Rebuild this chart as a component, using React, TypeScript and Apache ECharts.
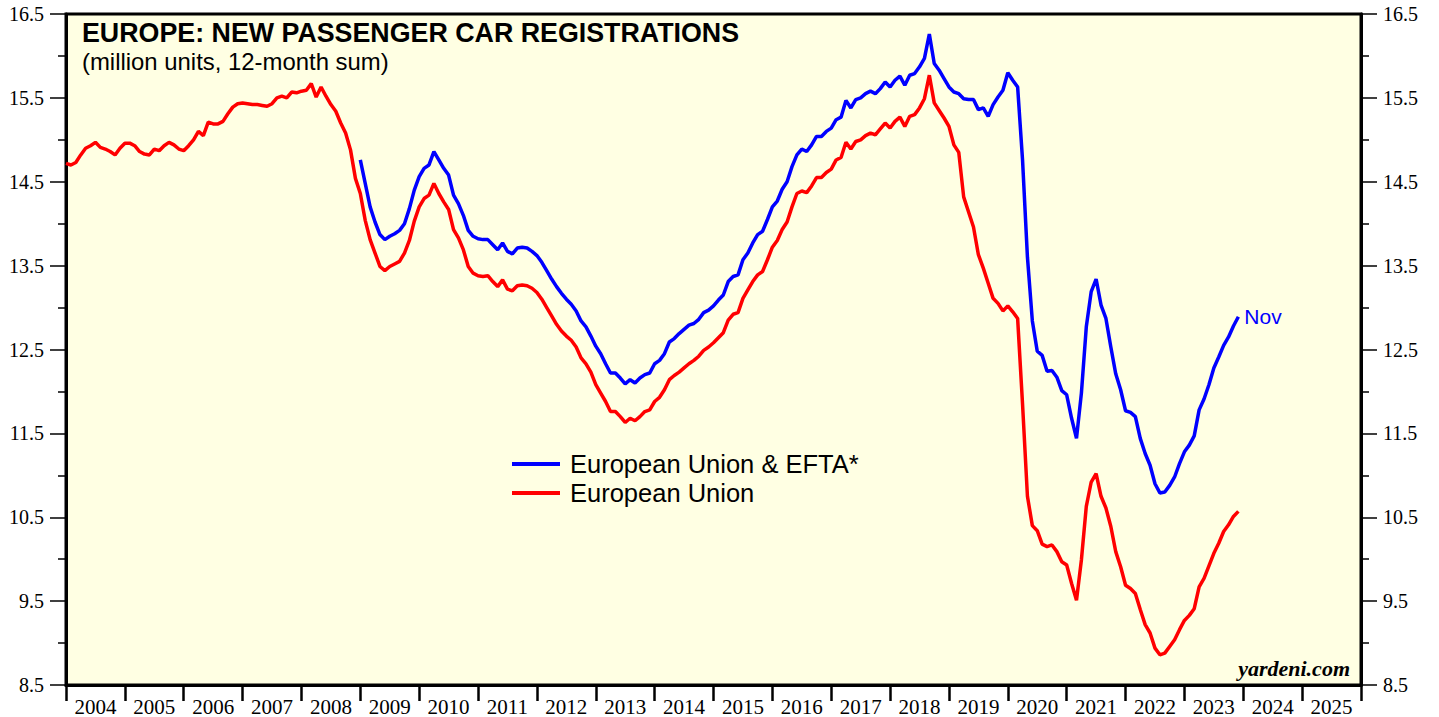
import React, { useEffect, useRef } from "react";
import * as echarts from "echarts";

const years = ["2004","2005","2006","2007","2008","2009","2010","2011","2012","2013","2014","2015","2016","2017","2018","2019","2020","2021","2022","2023","2024","2025"];

// European Union, monthly from Jan 2004 to Nov 2023 (million units, 12-month sum)
const euValues = [
  14.72,14.70,14.73,14.82,14.90,14.93,14.97,14.91,14.89,14.86,14.82,14.90,
  14.96,14.96,14.93,14.86,14.83,14.82,14.89,14.87,14.93,14.97,14.94,14.89,
  14.87,14.93,15.00,15.10,15.05,15.21,15.19,15.19,15.22,15.31,15.39,15.43,
  15.44,15.43,15.42,15.42,15.41,15.40,15.43,15.50,15.52,15.50,15.57,15.56,
  15.58,15.59,15.67,15.51,15.63,15.52,15.42,15.34,15.20,15.08,14.88,14.54,
  14.36,14.04,13.81,13.65,13.49,13.44,13.49,13.52,13.55,13.65,13.80,14.03,
  14.20,14.30,14.34,14.48,14.36,14.26,14.17,13.93,13.83,13.69,13.49,13.41,
  13.38,13.37,13.38,13.31,13.25,13.33,13.22,13.20,13.26,13.27,13.26,13.23,
  13.18,13.10,13.00,12.90,12.80,12.72,12.66,12.61,12.53,12.40,12.33,12.23,
  12.08,11.98,11.88,11.76,11.76,11.70,11.63,11.68,11.65,11.70,11.76,11.78,
  11.88,11.93,12.02,12.14,12.19,12.23,12.28,12.33,12.37,12.42,12.49,12.53,
  12.58,12.64,12.70,12.85,12.92,12.94,13.11,13.21,13.31,13.39,13.43,13.57,
  13.72,13.80,13.93,14.02,14.20,14.36,14.39,14.37,14.45,14.55,14.55,14.61,
  14.65,14.76,14.79,14.97,14.89,14.98,15.00,15.05,15.08,15.06,15.13,15.20,
  15.14,15.22,15.27,15.16,15.28,15.30,15.38,15.49,15.77,15.44,15.35,15.26,
  15.16,14.94,14.85,14.32,14.14,13.96,13.63,13.47,13.29,13.11,13.05,12.96,
  13.02,12.95,12.87,11.85,10.75,10.40,10.34,10.18,10.15,10.17,10.09,9.97,
  9.93,9.71,9.51,9.99,10.63,10.92,11.02,10.75,10.61,10.39,10.09,9.91,
  9.69,9.65,9.59,9.40,9.22,9.12,8.94,8.86,8.88,8.96,9.04,9.16,
  9.27,9.33,9.41,9.67,9.77,9.92,10.07,10.19,10.33,10.41,10.51,10.57
];

// European Union & EFTA*, monthly from Jan 2009 to Nov 2023
const euEftaStartIndex = 60;
const euEftaValues = [
  14.76,14.48,14.20,14.02,13.87,13.81,13.85,13.88,13.92,14.00,14.18,14.40,
  14.56,14.66,14.70,14.86,14.76,14.66,14.58,14.34,14.24,14.10,13.92,13.85,
  13.82,13.81,13.81,13.75,13.69,13.77,13.67,13.64,13.71,13.72,13.71,13.67,
  13.62,13.54,13.44,13.34,13.25,13.17,13.10,13.04,12.96,12.84,12.77,12.66,
  12.54,12.45,12.33,12.22,12.22,12.16,12.09,12.14,12.10,12.16,12.20,12.22,
  12.33,12.37,12.45,12.59,12.63,12.69,12.74,12.79,12.81,12.86,12.94,12.97,
  13.02,13.09,13.15,13.31,13.37,13.39,13.57,13.65,13.77,13.87,13.91,14.05,
  14.20,14.27,14.41,14.50,14.68,14.82,14.89,14.86,14.94,15.04,15.04,15.10,
  15.14,15.24,15.27,15.47,15.38,15.48,15.50,15.55,15.58,15.55,15.61,15.69,
  15.63,15.71,15.76,15.65,15.77,15.79,15.87,15.97,16.26,15.91,15.83,15.73,
  15.63,15.57,15.55,15.49,15.48,15.48,15.36,15.38,15.28,15.42,15.51,15.59,
  15.80,15.71,15.63,14.76,13.60,12.84,12.48,12.43,12.24,12.25,12.17,12.01,
  11.96,11.68,11.44,11.98,12.77,13.19,13.34,13.03,12.87,12.53,12.21,12.02,
  11.77,11.75,11.70,11.44,11.26,11.12,10.90,10.79,10.80,10.88,10.98,11.14,
  11.28,11.36,11.47,11.78,11.91,12.08,12.28,12.41,12.55,12.65,12.78,12.89
];

const yMin = 8.5;
const yMax = 16.5;
const yStep = 1;

const titleText = "EUROPE: NEW PASSENGER CAR REGISTRATIONS";
const subtitleText = "(million units, 12-month sum)";
const lastLabel = "Nov";
const seriesNames = ["European Union & EFTA*", "European Union"];

export default function App() {
  const ref = useRef<HTMLDivElement>(null);
  useEffect(() => {
    document.body.style.margin = "0";
    if (!ref.current) return;
    const chart = echarts.init(ref.current, undefined, { renderer: "svg" });

    const months: string[] = [];
    years.forEach((y) => {
      for (let m = 1; m <= 12; m++) months.push(`${y}-${m < 10 ? "0" + m : m}`);
    });
    months.push("2026-01");

    const eftaData: (number | null)[] = [];
    for (let i = 0; i < euEftaStartIndex; i++) eftaData.push(null);
    euEftaValues.forEach((v) => eftaData.push(v));

    const serif = "'Liberation Serif', 'Times New Roman', serif";
    const sans = "'Liberation Sans', Arial, sans-serif";

    const yAxisBase = {
      type: "value",
      min: yMin,
      max: yMax,
      interval: yStep,
      axisLine: { show: true, lineStyle: { color: "#000", width: 3 } },
      axisTick: { show: true, length: 16, lineStyle: { color: "#000", width: 1.5 } },
      minorTick: { show: true, splitNumber: 2, length: 8, lineStyle: { color: "#000", width: 1.5 } },
      splitLine: { show: false },
      axisLabel: {
        color: "#000",
        fontFamily: serif,
        fontSize: 20,
        margin: 22,
        formatter: (v: number) => v.toFixed(1),
      },
    };

    chart.setOption({
      animation: false,
      grid: {
        left: 66,
        right: 78,
        top: 14,
        bottom: 32,
        show: true,
        backgroundColor: "#FFFFE3",
        borderColor: "#000",
        borderWidth: 3,
      },
      xAxis: {
        type: "category",
        data: months,
        boundaryGap: false,
        axisLine: { show: true, lineStyle: { color: "#000", width: 3 } },
        axisTick: {
          show: true,
          length: 16,
          interval: (i: number) => i % 12 === 0,
          lineStyle: { color: "#000", width: 2.5 },
        },
        axisLabel: {
          interval: (i: number) => i % 12 === 6,
          formatter: (v: string) => v.slice(0, 4),
          color: "#000",
          fontFamily: serif,
          fontSize: 21,
          margin: 11,
        },
        splitLine: { show: false },
      },
      yAxis: [
        { ...yAxisBase, position: "left" },
        { ...yAxisBase, position: "right" },
      ],
      legend: {
        data: seriesNames,
        orient: "vertical",
        left: 512,
        top: 451,
        padding: 0,
        icon: "rect",
        itemWidth: 48,
        itemHeight: 4,
        itemGap: 3,
        textStyle: { color: "#000", fontFamily: sans, fontSize: 25.5, padding: [0, 0, 0, 5] },
      },
      graphic: [
        {
          type: "text",
          left: 82,
          top: 19,
          style: { text: titleText, fontFamily: sans, fontWeight: "bold", fontSize: 26.8, fill: "#000" },
        },
        {
          type: "text",
          left: 82,
          top: 49,
          style: { text: subtitleText, fontFamily: sans, fontSize: 23.9, fill: "#000" },
        },
        {
          type: "text",
          right: 89,
          top: 657,
          style: { text: "yardeni.com", fontFamily: serif, fontWeight: "bold", fontStyle: "italic", fontSize: 22, fill: "#000" },
        },
      ],
      series: [
        {
          name: seriesNames[0],
          type: "line",
          data: eftaData,
          showSymbol: false,
          connectNulls: false,
          lineStyle: { color: "#0000FF", width: 3.5 },
          itemStyle: { color: "#0000FF" },
          endLabel: { show: true, formatter: lastLabel, color: "#0000FF", fontFamily: sans, fontSize: 21, distance: 6 },
          z: 3,
        },
        {
          name: seriesNames[1],
          type: "line",
          data: euValues,
          showSymbol: false,
          lineStyle: { color: "#FF0000", width: 3.5 },
          itemStyle: { color: "#FF0000" },
          z: 2,
        },
      ],
    });
    return () => chart.dispose();
  }, []);
  return <div ref={ref} style={{ width: 1439, height: 717 }} />;
}
